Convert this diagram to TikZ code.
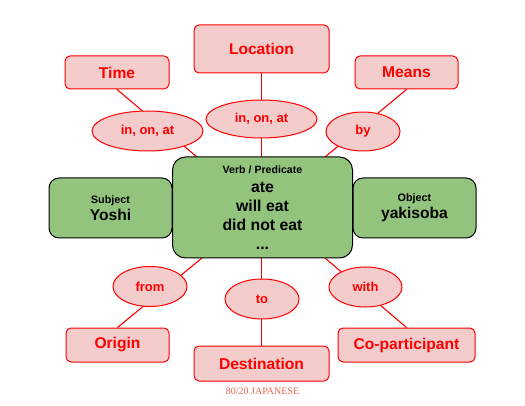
\documentclass[tikz,border=0pt]{standalone}
\usepackage{fontspec}
\setmainfont{Liberation Sans}
\newfontfamily\footfont{Liberation Serif}
\usetikzlibrary{shapes.geometric}
\definecolor{pinkfill}{HTML}{F4CCCC}
\definecolor{redline}{HTML}{FF0000}
\definecolor{greenfill}{HTML}{93C47D}
\definecolor{footc}{RGB}{240,100,80}
\begin{document}
\begin{tikzpicture}[x=1pt,y=-1pt,
  redbox/.style={draw=redline, fill=pinkfill, rounded corners=5pt, line width=1pt,
    text=redline, font=\bfseries\fontsize{15.6}{19}\selectfont, inner sep=0pt},
  redell/.style={ellipse, draw=redline, fill=pinkfill, line width=1pt,
    text=redline, font=\bfseries\fontsize{13}{16}\selectfont, inner sep=0pt},
  greenbox/.style={draw=black, fill=greenfill, line width=1pt, align=center,
    inner sep=0pt, font=\bfseries\fontsize{15.6}{17}\selectfont},
  conn/.style={draw=redline, line width=1.1pt}]
\useasboundingbox (0,0) rectangle (525,406);

% outer labelled boxes
\node[redbox, minimum width=135pt, minimum height=48pt] (loc) at (261.5,49) {Location};
\node[redbox, minimum width=104pt, minimum height=33pt] (time) at (117,72.5) {Time};
\node[redbox, minimum width=103pt, minimum height=33pt] (means) at (406.5,72.5) {Means};
\node[redbox, minimum width=103pt, minimum height=34pt] (origin) at (117.5,345) {Origin};
\node[redbox, minimum width=135pt, minimum height=35pt] (dest) at (261.5,363.5) {Destination};
\node[redbox, minimum width=137pt, minimum height=34pt] (cop) at (406.5,345) {Co-participant};

% points on the border of the verb box
\coordinate (vtl) at (197,157);
\coordinate (vtm) at (261.5,157);
\coordinate (vtr) at (325,157);
\coordinate (vbl) at (202,258);
\coordinate (vbm) at (261.5,258);
\coordinate (vbr) at (325,258);

% connectors (drawn before the ellipses so these cover them)
\draw[conn] (time.south) -- (vtl);
\draw[conn] (loc.south) -- (vtm);
\draw[conn] (means.south) -- (vtr);
\draw[conn] (origin.north) -- (vbl);
\draw[conn] (dest.north) -- (vbm);
\draw[conn] (cop.north) -- (vbr);

% particle ellipses
\node[redell, minimum width=111pt, minimum height=40pt] (etime) at (147.5,131) {in, on, at};
\node[redell, minimum width=111pt, minimum height=38pt] (eloc) at (261.5,119) {in, on, at};
\node[redell, minimum width=74pt, minimum height=39pt] (emeans) at (363,131.5) {by};
\node[redell, minimum width=74pt, minimum height=40pt] (efrom) at (150,286.5) {from};
\node[redell, minimum width=74pt, minimum height=40pt] (eto) at (262,299) {to};
\node[redell, minimum width=73pt, minimum height=40pt] (ewith) at (365.5,287) {with};

% middle row
\node[greenbox, rounded corners=10pt, minimum width=123pt, minimum height=60pt] (subj) at (110.5,208)
  {{\fontsize{10.8}{13}\selectfont Subject}\\Yoshi};
\node[greenbox, rounded corners=10pt, minimum width=123pt, minimum height=60pt] (obj) at (414.5,208)
  {{\fontsize{10.8}{13}\selectfont Object}\\yakisoba};
\node[greenbox, rounded corners=13pt, minimum width=180pt, minimum height=101pt,
  font=\bfseries\fontsize{15.8}{19}\selectfont] (verb) at (262.5,207.5)
  {{\fontsize{10.6}{13}\selectfont Verb / Predicate}\\ate\\will eat\\did not eat\\...};

\node[text=footc, font=\footfont\fontsize{10}{12}\selectfont, inner sep=0pt] (foot) at (262.5,391.5) {80/20 JAPANESE};
\end{tikzpicture}
\end{document}
